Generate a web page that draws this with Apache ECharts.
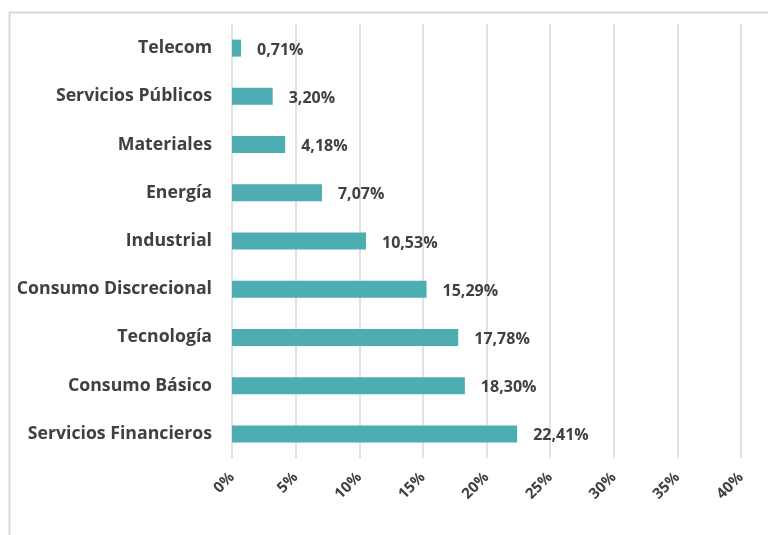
<!DOCTYPE html>
<html>
<head>
<meta charset="utf-8">
<script src="https://cdn.jsdelivr.net/npm/echarts@6/dist/echarts.min.js"></script>
<style>
  html, body { margin: 0; padding: 0; background: #fff; }
  #chart { width: 768px; height: 535px; }
</style>
</head>
<body>
<div id="chart"></div>
<script>
// sectores (de arriba hacia abajo en el gráfico)
const sectors = [
  'Telecom',
  'Servicios Públicos',
  'Materiales',
  'Energía',
  'Industrial',
  'Consumo Discrecional',
  'Tecnología',
  'Consumo Básico',
  'Servicios Financieros'
];
const weights = [0.71, 3.20, 4.18, 7.07, 10.53, 15.29, 17.78, 18.30, 22.41];

const textColor = '#404040';
const gridColor = '#d9d9d9';
const barColor = '#4eadb3';
const font = '"Open Sans", sans-serif';

const chart = echarts.init(document.getElementById('chart'));

const option = {
  backgroundColor: '#fff',
  animation: false,
  graphic: [
    {
      type: 'rect',
      shape: { x: 9.5, y: 12.5, width: 800, height: 600 },
      style: { fill: 'none', stroke: '#d9d9d9', lineWidth: 2 },
      silent: true
    }
  ],
  grid: { left: 232, right: 27, top: 24, bottom: 77, containLabel: false },
  xAxis: {
    type: 'value',
    min: 0,
    max: 40,
    interval: 5,
    axisLine: { show: false },
    axisTick: { show: false },
    splitLine: { lineStyle: { color: gridColor, width: 1.5 } },
    axisLabel: {
      rotate: 45,
      margin: 17,
      color: textColor,
      fontFamily: font,
      fontWeight: 'bold',
      fontSize: 15,
      formatter: v => v + '%'
    }
  },
  yAxis: {
    type: 'category',
    data: sectors,
    inverse: true,
    axisLine: { show: false },
    axisTick: { show: false },
    axisLabel: {
      margin: 20,
      padding: [7, 0, 0, 0],
      color: textColor,
      fontFamily: font,
      fontWeight: 'bold',
      fontSize: 17.7
    }
  },
  series: [
    {
      type: 'bar',
      data: weights,
      barWidth: 17,
      itemStyle: { color: barColor },
      label: {
        show: true,
        position: 'right',
        distance: 16,
        color: textColor,
        fontFamily: font,
        fontWeight: 'bold',
        fontSize: 16,
        offset: [0, 2],
        formatter: p => p.value.toFixed(2).replace('.', ',') + '%'
      }
    }
  ]
};

chart.setOption(option);
</script>
</body>
</html>
